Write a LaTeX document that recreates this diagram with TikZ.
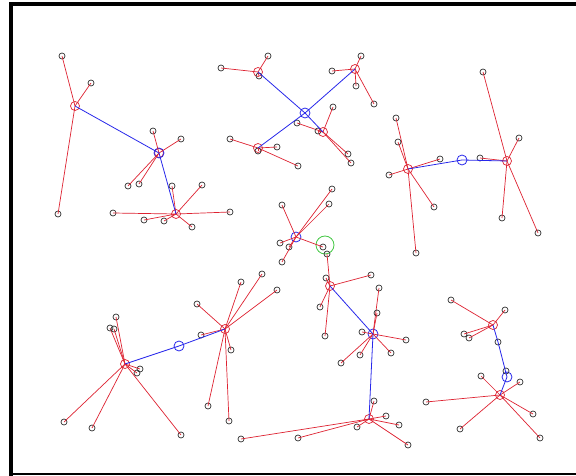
\documentclass[tikz,border=0pt]{standalone}
\definecolor{lred}{RGB}{222,35,50}
\definecolor{lblue}{RGB}{40,40,235}
\definecolor{lgray}{RGB}{50,50,50}
\definecolor{lgreen}{RGB}{70,200,70}
\tikzset{
  leaf/.style={circle,draw=lgray,line width=0.7pt,inner sep=0pt,minimum size=6pt},
  hubred/.style={circle,draw=lred,line width=0.7pt,inner sep=0pt,minimum size=9pt},
  hubblue/.style={circle,draw=lblue,line width=0.8pt,inner sep=0pt,minimum size=10pt},
  hubgreen/.style={circle,draw=lgreen,line width=0.8pt,inner sep=0pt,minimum size=18pt},
  rline/.style={draw=lred,line width=0.7pt},
  bline/.style={draw=lblue,line width=0.8pt},
}
\newcommand{\hubleaves}[3]{%
  \foreach \lx/\ly [count=\li] in {#3} {
    \node[leaf] (#1\li) at (\lx,\ly) {};
    \draw[rline] (#2.center) -- (#1\li.center);
  }}
\begin{document}
\begin{tikzpicture}[x=1pt,y=-1pt]
\useasboundingbox (0,0) rectangle (576,476);
\fill[white] (0,0) rectangle (576,476);
% frame
\fill[black] (9,2) rectangle (576,6);
\fill[black] (9,2) rectangle (13,476);
\fill[black] (9,473) rectangle (576,475);

% ---------- cluster A ----------
\node[hubred] (A1) at (75,106) {};
\node[hubred] (A2) at (159,153) {};
\node[hubblue] (A2b) at (159,153) {};
\node[hubred] (A3) at (176,214) {};
\hubleaves{a}{A1}{62/56,91/83,58/214}
\hubleaves{b}{A2}{153/131,181/139,128/186,139/184}
\hubleaves{c}{A3}{172/186,113/213,144/220,164/221,192/227,202/185,230/212}
\draw[bline] (A1.center) -- (A2.center) -- (A3.center);

% ---------- cluster B ----------
\node[hubblue] (B0) at (305,113) {};
\node[hubred] (B1) at (258,72) {};
\node[hubred] (B2) at (355,69) {};
\node[hubred] (B3) at (323,132) {};
\node[hubred] (B4) at (258,148) {};
\hubleaves{d}{B1}{221/68,268/56,259/76}
\hubleaves{e}{B2}{361/56,332/71,356/86,374/104}
\hubleaves{f}{B3}{333/107,297/123,318/131,348/154,351/163}
\hubleaves{g}{B4}{230/139,277/147,298/166,258/151}
\draw[bline] (B0.center) -- (B1.center);
\draw[bline] (B0.center) -- (B2.center);
\draw[bline] (B0.center) -- (B3.center);
\draw[bline] (B0.center) -- (B4.center);

% ---------- cluster C ----------
\node[hubred] (C1) at (408,169) {};
\node[hubblue] (C0) at (462,160) {};
\node[hubred] (C2) at (507,161) {};
\hubleaves{h}{C1}{396/118,398/142,389/175,440/159,434/207,416/253}
\hubleaves{i}{C2}{483/72,519/138,480/158,502/218,538/233}
\draw[bline] (C1.center) -- (C0.center) -- (C2.center);

% ---------- cluster D ----------
\node[hubblue] (D1) at (296,237) {};
\node[hubgreen] (D0) at (325,245) {};
\hubleaves{j}{D1}{282/205,332/189,329/204,280/243,289/247,282/262,323/247}

% ---------- cluster E ----------
\node[hubred] (E1) at (330,286) {};
\node[hubblue] (E2) at (373,334) {};
\node[hubred] (E3) at (369,419) {};
\hubleaves{k}{E1}{326/278,371/275,320/307,325/336,327/254}
\hubleaves{l}{E2}{379/288,377/313,362/332,360/355,341/363,406/340,391/353}
\hubleaves{m}{E3}{374/401,241/439,298/438,357/427,386/416,399/425,408/445}
\draw[bline] (E1.center) -- (E2.center) -- (E3.center);

% ---------- cluster F ----------
\node[hubred] (F1) at (125,364) {};
\node[hubblue] (F0) at (179,346) {};
\node[hubred] (F2) at (225,329) {};
\hubleaves{n}{F1}{116/317,110/328,114/329,140/369,137/373,64/422,92/428,181/435}
\hubleaves{o}{F2}{197/304,241/282,262/274,277/290,201/335,231/350,208/406,229/421}
\draw[bline] (F1.center) -- (F0.center) -- (F2.center);

% ---------- cluster G ----------
\node[hubred] (G1) at (493,325) {};
\node[hubblue] (G0) at (507,377) {};
\node[hubred] (G2) at (500,395) {};
\hubleaves{p}{G1}{451/300,505/310,464/334,469/338}
\node[leaf] (q1) at (498,342) {};
\node[leaf] (q2) at (506,371) {};
\hubleaves{r}{G2}{481/376,520/382,426/402,460/429,533/414,540/438}
\draw[bline] (G1.center) -- (q1.center) -- (G0.center) -- (G2.center);
\end{tikzpicture}
\end{document}
